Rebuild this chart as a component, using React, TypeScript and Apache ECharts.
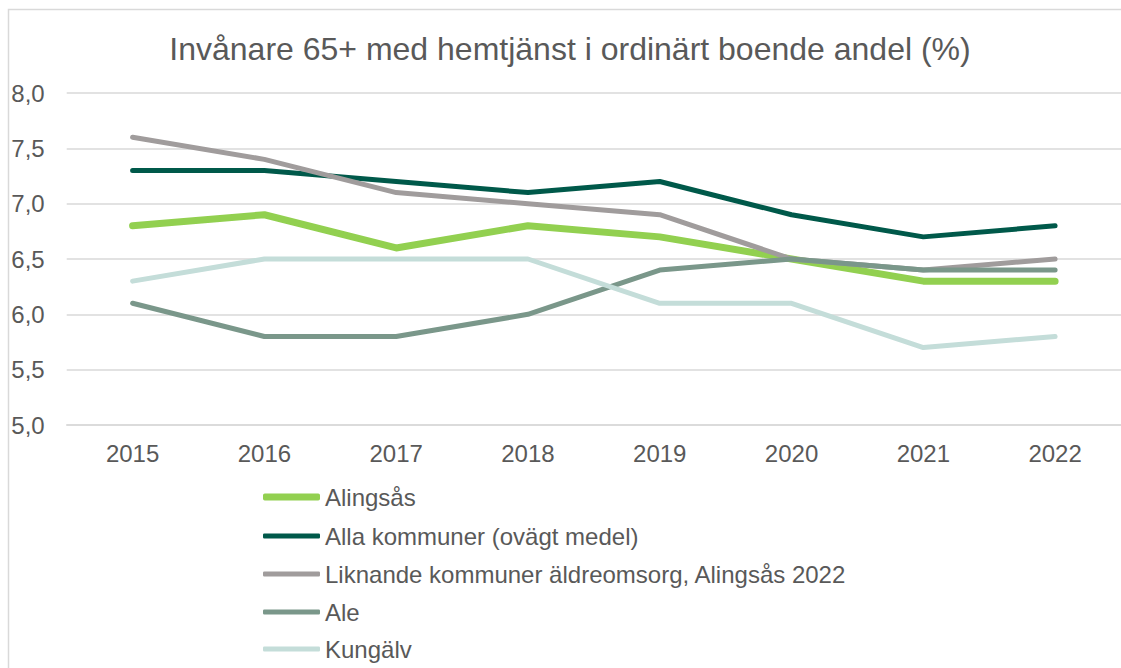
import React, { useEffect, useRef } from "react";
import * as echarts from "echarts";

const title = "Invånare 65+ med hemtjänst i ordinärt boende andel (%)";
const years = ["2015", "2016", "2017", "2018", "2019", "2020", "2021", "2022"];
const seriesNames = [
  "Alingsås",
  "Alla kommuner (ovägt medel)",
  "Liknande kommuner äldreomsorg, Alingsås 2022",
  "Ale",
  "Kungälv",
];
const alingsas = [6.8, 6.9, 6.6, 6.8, 6.7, 6.5, 6.3, 6.3];
const allaKommuner = [7.3, 7.3, 7.2, 7.1, 7.2, 6.9, 6.7, 6.8];
const liknande = [7.6, 7.4, 7.1, 7.0, 6.9, 6.5, 6.4, 6.5];
const ale = [6.1, 5.8, 5.8, 6.0, 6.4, 6.5, 6.4, 6.4];
const kungalv = [6.3, 6.5, 6.5, 6.5, 6.1, 6.1, 5.7, 5.8];
const seriesValues = [alingsas, allaKommuner, liknande, ale, kungalv];
const colors = ["#92D050", "#00594A", "#A09C9C", "#7A978A", "#C4DDD9"];
const widths = [7, 5, 5, 5, 5];

export default function App() {
  const ref = useRef<HTMLDivElement>(null);
  useEffect(() => {
    if (!ref.current) return;
    const chart = echarts.init(ref.current, undefined, { renderer: "svg" });
    const font = "'Liberation Sans', Arial, sans-serif";
    const legendTops = [485, 524, 562, 600, 637];
    chart.setOption({
      animation: false,
      backgroundColor: "#ffffff",
      textStyle: { fontFamily: font },
      title: {
        text: title,
        left: 570,
        textAlign: "center",
        top: 33,
        padding: 0,
        textStyle: { fontFamily: font, fontSize: 32, fontWeight: "normal", color: "#595959" },
      },
      graphic: [
        {
          type: "rect",
          shape: { x: 8.5, y: 9.5, width: 1130, height: 700 },
          style: { fill: "none", stroke: "#D9D9D9", lineWidth: 1.5 },
          silent: true,
        },
      ],
      grid: { left: 66.7, right: -12.3, top: 93, bottom: 243, containLabel: false },
      xAxis: {
        type: "category",
        data: years,
        boundaryGap: true,
        axisLine: { show: true, lineStyle: { color: "#D9D9D9", width: 1.5 } },
        axisTick: { show: false },
        axisLabel: { color: "#595959", fontSize: 24, fontFamily: font, margin: 16 },
      },
      yAxis: {
        type: "value",
        min: 5,
        max: 8,
        interval: 0.5,
        axisLine: { show: false },
        axisTick: { show: false },
        splitLine: { lineStyle: { color: "#D9D9D9", width: 1.5 } },
        axisLabel: {
          color: "#595959",
          fontSize: 24,
          fontFamily: font,
          margin: 22,
          formatter: (v: number) => v.toFixed(1).replace(".", ","),
        },
      },
      legend: seriesNames.map((n, i) => ({
        data: [n],
        orient: "vertical",
        left: 263,
        top: legendTops[i],
        padding: 0,
        icon: "roundRect",
        itemWidth: 57,
        itemHeight: widths[i],
        itemGap: 0,
        textStyle: { color: "#595959", fontSize: 24, fontFamily: font },
        selectedMode: false,
      })),
      series: seriesNames.map((n, i) => ({
        name: n,
        type: "line",
        data: seriesValues[i],
        symbol: "none",
        color: colors[i],
        lineStyle: { color: colors[i], width: widths[i], cap: "round", join: "round" },
        itemStyle: { color: colors[i] },
      })),
    });
    return () => chart.dispose();
  }, []);
  return (
    <div
      ref={ref}
      style={{ position: "fixed", left: 0, top: 0, width: 1121, height: 668 }}
    />
  );
}
